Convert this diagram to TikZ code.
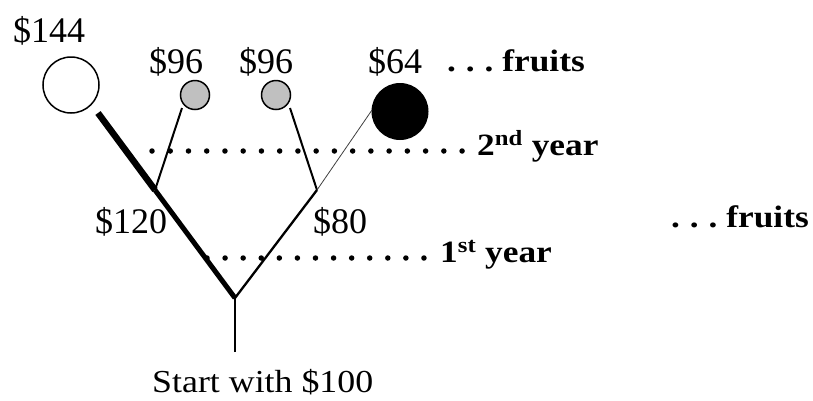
\documentclass[tikz,border=0pt]{standalone}
\usepackage{fontspec}
\setmainfont{Liberation Serif}
\begin{document}
\begin{tikzpicture}[x=1pt,y=-1pt,
  lbl/.style={anchor=base west,inner sep=0pt,font=\fontsize{36}{40}\selectfont},
  blbl/.style={anchor=base west,inner sep=0pt,font=\fontsize{31}{36}\selectfont\bfseries,xscale=1.14},
  fruit/.style={circle,draw,line width=1.5pt,inner sep=0pt},
  dotrow/.style={line width=5.5pt,line cap=round,dash pattern=on 0pt off 18.24pt}]
\useasboundingbox (0,0) rectangle (813,400);
% fruits
\node[fruit,minimum size=56pt,fill=white] (big) at (71,85) {};
\node[fruit,minimum size=29pt,fill={rgb,255:red,192;green,192;blue,192}] (g1) at (195,95) {};
\node[fruit,minimum size=29pt,fill={rgb,255:red,192;green,192;blue,192}] (g2) at (276,95) {};
\node[circle,fill=black,inner sep=0pt,minimum size=57pt] (blk) at (400,111.5) {};
% tree coordinates
\coordinate (root) at (235,352);
\coordinate (j0) at (235,298);
\coordinate (jL) at (155,190);
\coordinate (jR) at (317,190);
\coordinate (tipL) at (98,113);
\coordinate (e1) at (182,108);
\coordinate (e2) at (290,108);
\coordinate (e3) at (372,110);
% dotted year lines
\coordinate (d2a) at (152,151);
\coordinate (d2b) at (465,151);
\coordinate (d1a) at (207,258);
\coordinate (d1b) at (426,258);
\draw[dotrow] (d2a) -- (d2b);
\draw[dotrow,dash pattern=on 0pt off 18.08pt] (d1a) -- (d1b);
% branches
\draw[line width=2pt] (root) -- (j0);
\draw[line width=5pt] (j0) -- (jL);
\draw[line width=6.5pt] (jL) -- (tipL);
\draw[line width=2.3pt] (j0) -- (jR);
\draw[line width=2pt] (jL) -- (e1);
\draw[line width=2pt] (jR) -- (e2);
\draw[line width=0.8pt,black!75] (jR) -- (e3);
% labels
\node[lbl] (t144) at (13,42) {\$144};
\node[lbl] (t96a) at (149,73) {\$96};
\node[lbl] (t96b) at (239,73) {\$96};
\node[lbl] (t64) at (368,73) {\$64};
\node[lbl] (t120) at (95,233) {\$120};
\node[lbl] (t80) at (313,233) {\$80};
\node[lbl,font=\fontsize{32}{36}\selectfont,xscale=1.12] (start) at (152,392) {Start with \$100};
\node[blbl] (fr1) at (447,71) {.\hspace{0.28em}.\hspace{0.28em}.\hspace{0.25em}fruits};
\node[blbl] (fr2) at (671,227) {.\hspace{0.28em}.\hspace{0.28em}.\hspace{0.25em}fruits};
\node[blbl] (y2) at (477,155) {2\textsuperscript{nd} year};
\node[blbl] (y1) at (440,262) {1\textsuperscript{st} year};
\end{tikzpicture}
\end{document}
